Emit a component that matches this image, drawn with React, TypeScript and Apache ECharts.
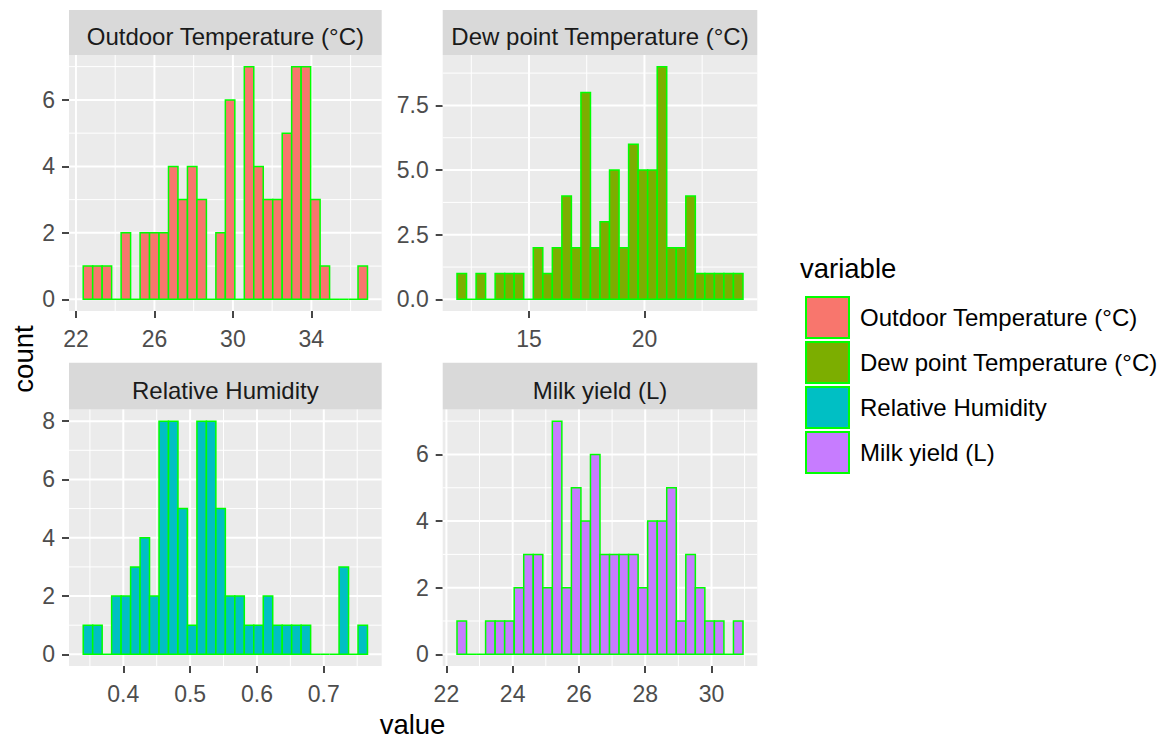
import React, { useEffect, useRef } from "react";
import * as echarts from "echarts";

// Facet titles / legend entries
const panelNames = [
  "Outdoor Temperature (°C)",
  "Dew point Temperature (°C)",
  "Relative Humidity",
  "Milk yield (L)",
];
const fillColors = ["#F8766D", "#7CAE00", "#00BFC4", "#C77CFF"];

// Histogram counts (30 bins each)
const outdoorCounts = [1, 1, 1, 0, 2, 0, 2, 2, 2, 4, 3, 4, 3, 0, 2, 6, 0, 7, 4, 3, 3, 5, 7, 7, 3, 1, 0, 0, 0, 1];
const dewCounts = [1, 0, 1, 0, 1, 1, 1, 0, 2, 1, 2, 4, 2, 8, 2, 3, 5, 2, 6, 5, 5, 9, 2, 2, 4, 1, 1, 1, 1, 1];
const humidityCounts = [1, 1, 0, 2, 2, 3, 4, 2, 8, 8, 5, 1, 8, 8, 5, 2, 2, 1, 1, 2, 1, 1, 1, 1, 0, 0, 0, 3, 0, 1];
const milkCounts = [1, 0, 0, 1, 1, 1, 2, 3, 3, 2, 7, 2, 5, 4, 6, 3, 3, 3, 3, 2, 4, 4, 5, 1, 3, 2, 1, 1, 0, 1];

// Left edge of first bin and bin width for each facet
const binStarts = [22.37, 11.88, 0.34, 22.32];
const binWidths = [0.483, 0.413, 0.01418, 0.2877];

// Tick labels (major breaks) and minor breaks
const xMajor = [[22, 26, 30, 34], [15, 20], [0.4, 0.5, 0.6, 0.7], [22, 24, 26, 28, 30]];
const xMinor = [[24, 28, 32, 36], [12.5, 17.5, 22.5], [0.35, 0.45, 0.55, 0.65, 0.75], [23, 25, 27, 29, 31]];
const yMajor = [[0, 2, 4, 6], [0, 2.5, 5, 7.5], [0, 2, 4, 6, 8], [0, 2, 4, 6]];
const yMinor = [[1, 3, 5, 7], [1.25, 3.75, 6.25, 8.75], [1, 3, 5, 7], [1, 3, 5, 7]];
const yDecimals = [0, 1, 0, 0];

const FONT = "'Liberation Sans', Arial, sans-serif";

export default function App() {
  const ref = useRef<HTMLDivElement>(null);

  useEffect(() => {
    const chart = echarts.init(ref.current as HTMLDivElement, null, { renderer: "svg" });
    const countsList = [outdoorCounts, dewCounts, humidityCounts, milkCounts];

    const gridRects = [
      [69, 55, 312.7, 256],
      [442.7, 55, 314.6, 256],
      [69, 409.5, 312.7, 256.5],
      [442.7, 409.5, 314.6, 256.5],
    ];
    const stripRects = [
      [69, 10, 312.7, 45],
      [442.7, 10, 314.6, 45],
      [69, 362.7, 312.7, 46.8],
      [442.7, 362.7, 314.6, 46.8],
    ];
    const stripTextY = [36.5, 36.5, 390, 390];

    const grids: any[] = [];
    const xAxes: any[] = [];
    const yAxes: any[] = [];
    const series: any[] = [];
    const graphics: any[] = [];

    countsList.forEach((counts, i) => {
      const [gl, gt, gw, gh] = gridRects[i];
      grids.push({
        left: gl,
        top: gt,
        width: gw,
        height: gh,
        show: true,
        backgroundColor: "#EBEBEB",
        borderWidth: 0,
      });
      const span = binWidths[i] * counts.length;
      const lo = binStarts[i] - 0.05 * span;
      const hi = binStarts[i] + 1.05 * span;
      const maxC = Math.max(...counts);
      const ylo = -0.05 * maxC;
      const yhi = 1.05 * maxC;

      xAxes.push({
        type: "value",
        gridIndex: i,
        min: lo,
        max: hi,
        axisLine: { show: false, onZero: false },
        splitLine: { show: false },
        axisTick: {
          show: true,
          customValues: xMajor[i],
          length: 7,
          lineStyle: { color: "#333333", width: 1.8 },
        },
        axisLabel: {
          customValues: xMajor[i],
          fontSize: 23,
          fontFamily: FONT,
          color: "#4D4D4D",
          margin: 16.5,
        },
      });
      yAxes.push({
        type: "value",
        gridIndex: i,
        min: ylo,
        max: yhi,
        axisLine: { show: false, onZero: false },
        splitLine: { show: false },
        axisTick: {
          show: true,
          customValues: yMajor[i],
          length: 7,
          lineStyle: { color: "#333333", width: 1.8 },
        },
        axisLabel: {
          customValues: yMajor[i],
          fontSize: 23,
          fontFamily: FONT,
          color: "#4D4D4D",
          margin: 14,
          formatter: (v: number) => v.toFixed(yDecimals[i]),
        },
      });

      // gridlines: [value, orientation (0 = vertical, 1 = horizontal), line width]
      const gridData = [
        ...xMinor[i].map((v) => [v, 0, 1]),
        ...yMinor[i].map((v) => [v, 1, 1]),
        ...xMajor[i].map((v) => [v, 0, 2]),
        ...yMajor[i].map((v) => [v, 1, 2]),
      ];
      series.push({
        type: "custom",
        xAxisIndex: i,
        yAxisIndex: i,
        z: 1,
        silent: true,
        data: gridData,
        renderItem: (params: any, api: any) => {
          const cs = params.coordSys;
          const v = api.value(0);
          const orient = api.value(1);
          const w = api.value(2);
          if (orient === 0) {
            const x = api.coord([v, 0])[0];
            if (x < cs.x || x > cs.x + cs.width) return null;
            return {
              type: "line",
              shape: { x1: x, y1: cs.y, x2: x, y2: cs.y + cs.height },
              style: { stroke: "#FFFFFF", lineWidth: w },
            };
          }
          const y = api.coord([lo, v])[1];
          if (y < cs.y || y > cs.y + cs.height) return null;
          return {
            type: "line",
            shape: { x1: cs.x, y1: y, x2: cs.x + cs.width, y2: y },
            style: { stroke: "#FFFFFF", lineWidth: w },
          };
        },
      });

      const barData = counts.map((c, k) => [
        binStarts[i] + k * binWidths[i],
        binStarts[i] + (k + 1) * binWidths[i],
        c,
      ]);
      const color = fillColors[i];
      series.push({
        type: "custom",
        name: panelNames[i],
        xAxisIndex: i,
        yAxisIndex: i,
        z: 3,
        itemStyle: { color, borderColor: "#00FF00", borderWidth: 2 },
        encode: { x: [0, 1], y: 2 },
        data: barData,
        renderItem: (_params: any, api: any) => {
          const p0 = api.coord([api.value(0), 0]);
          const p1 = api.coord([api.value(1), api.value(2)]);
          return {
            type: "rect",
            shape: { x: p0[0], y: p1[1], width: p1[0] - p0[0], height: p0[1] - p1[1] },
            style: { fill: color, stroke: "#00FF00", lineWidth: 1.5 },
          };
        },
      });

      const [sx, sy, sw, sh] = stripRects[i];
      graphics.push({
        type: "rect",
        shape: { x: sx, y: sy, width: sw, height: sh },
        style: { fill: "#D9D9D9" },
        silent: true,
      });
      graphics.push({
        type: "text",
        x: sx + sw / 2,
        y: stripTextY[i],
        style: {
          text: panelNames[i],
          fontSize: 24,
          fontFamily: FONT,
          fill: "#1A1A1A",
          align: "center",
          verticalAlign: "middle",
        },
        silent: true,
      });
    });

    graphics.push({
      type: "text",
      x: 23.6,
      y: 359,
      rotation: Math.PI / 2,
      style: {
        text: "count",
        fontSize: 27.5,
        fontFamily: FONT,
        fill: "#000000",
        align: "center",
        verticalAlign: "middle",
      },
    });
    graphics.push({
      type: "text",
      x: 412.5,
      y: 724,
      style: {
        text: "value",
        fontSize: 27.5,
        fontFamily: FONT,
        fill: "#000000",
        align: "center",
        verticalAlign: "middle",
      },
    });
    graphics.push({
      type: "text",
      x: 800,
      y: 268,
      style: {
        text: "variable",
        fontSize: 27.5,
        fontFamily: FONT,
        fill: "#000000",
        align: "left",
        verticalAlign: "middle",
      },
    });

    chart.setOption({
      animation: false,
      backgroundColor: "#FFFFFF",
      textStyle: { fontFamily: FONT },
      grid: grids,
      xAxis: xAxes,
      yAxis: yAxes,
      series,
      legend: {
        show: true,
        data: panelNames,
        orient: "vertical",
        left: 800,
        top: 291,
        itemWidth: 43,
        itemHeight: 41,
        itemGap: 2,
        icon: "rect",
        selectedMode: false,
        itemStyle: { borderColor: "#00FF00", borderWidth: 2 },
        textStyle: {
          fontSize: 24,
          fontFamily: FONT,
          color: "#000000",
          padding: [0, 0, 0, 6],
        },
      },
      graphic: graphics,
    });

    return () => {
      chart.dispose();
    };
  }, []);

  return (
    <div
      ref={ref}
      style={{ position: "absolute", left: 0, top: 0, width: 1168, height: 740, background: "#FFFFFF" }}
    />
  );
}
